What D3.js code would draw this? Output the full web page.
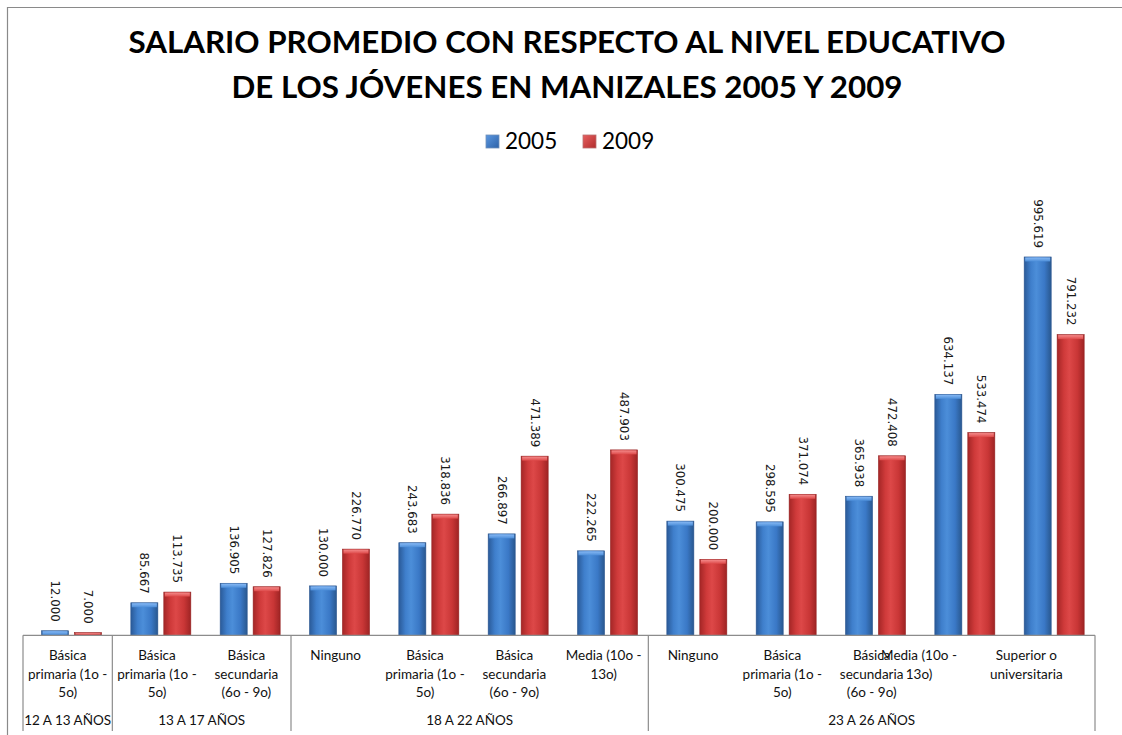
<!DOCTYPE html>
<html><head><meta charset="utf-8">
<script src="https://cdn.jsdelivr.net/npm/d3@7"></script>
<style>html,body{margin:0;padding:0;background:#fff;}svg{display:block;}</style>
</head><body>
<svg id="chart" width="1122" height="735"></svg>
<script>
// ---- data ----
const titleLines = ["SALARIO PROMEDIO CON RESPECTO AL NIVEL EDUCATIVO", "DE LOS JÓVENES EN MANIZALES 2005 Y 2009"];
const seriesNames = ["2005", "2009"];
const categoryLabels = [
  ["Básica", "primaria (1o -", "5o)"],
  ["Básica", "primaria (1o -", "5o)"],
  ["Básica", "secundaria", "(6o - 9o)"],
  ["Ninguno"],
  ["Básica", "primaria (1o -", "5o)"],
  ["Básica", "secundaria", "(6o - 9o)"],
  ["Media (10o -", "13o)"],
  ["Ninguno"],
  ["Básica", "primaria (1o -", "5o)"],
  ["Básica", "secundaria", "(6o - 9o)"],
  ["Media (10o -", "13o)"],
  ["Superior o", "universitaria"]
];
const groupNames = ["12 A 13 AÑOS", "13 A 17 AÑOS", "18 A 22 AÑOS", "23 A 26 AÑOS"];
const groupSizes = [1, 2, 4, 5];
const values2005 = [12000, 85667, 136905, 130000, 243683, 266897, 222265, 300475, 298595, 365938, 634137, 995619];
const values2009 = [7000, 113735, 127826, 226770, 318836, 471389, 487903, 200000, 371074, 472408, 533474, 791232];

// ---- layout ----
const svg = d3.select("#chart");
const W = 1122, H = 735;
const plotL = 23, plotR = 1095, baseY = 635.3;
const fmtLabel = v => d3.format(",")(v).replace(/,/g, ".");
const uiFont = "Lato, 'Open Sans', sans-serif";

// frame
svg.append("line").attr("x1", 7.5).attr("y1", 7).attr("x2", 7.5).attr("y2", H).attr("stroke", "#8a8a8a").attr("stroke-width", 1.2);
svg.append("line").attr("x1", 7).attr("y1", 7.5).attr("x2", W).attr("y2", 7.5).attr("stroke", "#8a8a8a").attr("stroke-width", 1.2);

// title
svg.append("g").selectAll("text").data(titleLines).join("text")
  .attr("x", 567).attr("y", (d, i) => 53 + i * 45)
  .attr("text-anchor", "middle")
  .attr("font-family", uiFont).attr("font-weight", "bold")
  .attr("font-size", 31.3).attr("fill", "#000")
  .text(d => d);

// gradients
const defs = svg.append("defs");
const palettes = [
  {id: "g2005", stops: ["#2a5a98", "#3f7fcc", "#4c8ed9", "#3a78c6", "#29588f"], cap: "#86b8f4", legend: ["#5b97e0", "#2d62a8"], stroke: "#2a5590"},
  {id: "g2009", stops: ["#a42626", "#cf3a3a", "#dd4848", "#c93636", "#9e2424"], cap: "#f48a8a", legend: ["#e86060", "#b02c2c"], stroke: "#962020"}
];
palettes.forEach(p => {
  const g = defs.append("linearGradient").attr("id", p.id).attr("x1", "0").attr("x2", "1").attr("y1", "0").attr("y2", "0");
  [0, 0.25, 0.45, 0.75, 1].forEach((o, i) => g.append("stop").attr("offset", o).attr("stop-color", p.stops[i]));
  const c = defs.append("linearGradient").attr("id", p.id + "cap").attr("x1", "0").attr("x2", "0").attr("y1", "0").attr("y2", "1");
  c.append("stop").attr("offset", 0).attr("stop-color", p.cap);
  c.append("stop").attr("offset", 1).attr("stop-color", p.stops[2]);
  const l = defs.append("linearGradient").attr("id", p.id + "leg").attr("x1", "0").attr("x2", "1").attr("y1", "0").attr("y2", "1");
  l.append("stop").attr("offset", 0).attr("stop-color", p.legend[0]);
  l.append("stop").attr("offset", 1).attr("stop-color", p.legend[1]);
});

// scales
const x0 = d3.scaleBand().domain(d3.range(categoryLabels.length)).range([plotL, plotR]).paddingInner(0).paddingOuter(0);
const x1 = d3.scaleBand().domain(seriesNames).range([18.5, 78.5]).paddingInner(0.18).paddingOuter(0);
const y = d3.scaleLinear().domain([0, 1000000]).range([baseY, baseY - 380]);

const series = [values2005, values2009];
const barsData = [];
categoryLabels.forEach((c, i) => {
  seriesNames.forEach((s, j) => barsData.push({cat: i, s, si: j, v: series[j][i]}));
});

const bars = svg.append("g").selectAll("g").data(barsData).join("g")
  .attr("transform", d => `translate(${x0(d.cat) + x1(d.s)},0)`);
bars.append("rect")
  .attr("x", 0).attr("width", x1.bandwidth())
  .attr("y", d => y(d.v)).attr("height", d => Math.max(1, baseY - y(d.v)))
  .attr("fill", d => `url(#${palettes[d.si].id})`)
  .attr("stroke", d => palettes[d.si].stroke).attr("stroke-width", 0.6);
bars.append("rect")
  .attr("x", 1).attr("width", x1.bandwidth() - 2)
  .attr("y", d => y(d.v) + 0.5).attr("height", d => Math.min(4, Math.max(0.5, baseY - y(d.v) - 1)))
  .attr("fill", d => `url(#${palettes[d.si].id}cap)`);

// value labels (rotated 90deg)
bars.append("text")
  .attr("transform", d => `translate(${x1.bandwidth() / 2},${y(d.v) - 9}) rotate(90)`)
  .attr("text-anchor", "end").attr("dy", "0.35em")
  .attr("font-family", "'DejaVu Sans', Verdana, sans-serif").attr("font-size", 11.8)
  .attr("fill", "#1a1a1a")
  .text(d => fmtLabel(d.v));

// category axis
const axisG = svg.append("g");
axisG.append("line").attr("x1", plotL).attr("x2", plotR).attr("y1", baseY).attr("y2", baseY).attr("stroke", "#8c8c8c").attr("stroke-width", 1.2);
let cum = 0;
const bounds = [0];
groupSizes.forEach(n => { cum += n; bounds.push(cum); });
const bx = b => b < categoryLabels.length ? x0(b) : plotR;
bounds.forEach(b => {
  axisG.append("line").attr("x1", bx(b)).attr("x2", bx(b)).attr("y1", baseY).attr("y2", 731).attr("stroke", "#8c8c8c").attr("stroke-width", 1.2);
});

// Excel rendered the last two labels shifted left (overlapping); reproduce that
const labelShift = {10: -42, 11: -24};
const catG = axisG.append("g").selectAll("text").data(categoryLabels).join("text")
  .attr("font-family", uiFont).attr("font-size", 13.5).attr("fill", "#111")
  .attr("text-anchor", "middle");
catG.selectAll("tspan").data((d, i) => d.map(t => ({t, i}))).join("tspan")
  .attr("x", d => x0(d.i) + x0.bandwidth() / 2 + (labelShift[d.i] || 0))
  .attr("y", (d, k) => 660 + k * 18.5)
  .text(d => d.t);

axisG.append("g").selectAll("text").data(groupNames).join("text")
  .attr("x", (d, i) => (bx(bounds[i]) + bx(bounds[i + 1])) / 2)
  .attr("y", 724.5)
  .attr("text-anchor", "middle")
  .attr("font-family", uiFont).attr("font-size", 13.5).attr("fill", "#111")
  .text(d => d);

// legend
const legendPos = [486, 583];
const leg = svg.append("g").selectAll("g").data(seriesNames).join("g")
  .attr("transform", (d, i) => `translate(${legendPos[i]},135)`);
leg.append("rect").attr("width", 13).attr("height", 13)
  .attr("fill", (d, i) => `url(#${palettes[i].id}leg)`)
  .attr("stroke", (d, i) => i === 0 ? "#6f8fb8" : "#b87070").attr("stroke-width", 0.8);
leg.append("text").attr("x", 19).attr("y", 14)
  .attr("font-family", uiFont).attr("font-size", 22.5).attr("fill", "#000")
  .text(d => d);
</script>
</body></html>
